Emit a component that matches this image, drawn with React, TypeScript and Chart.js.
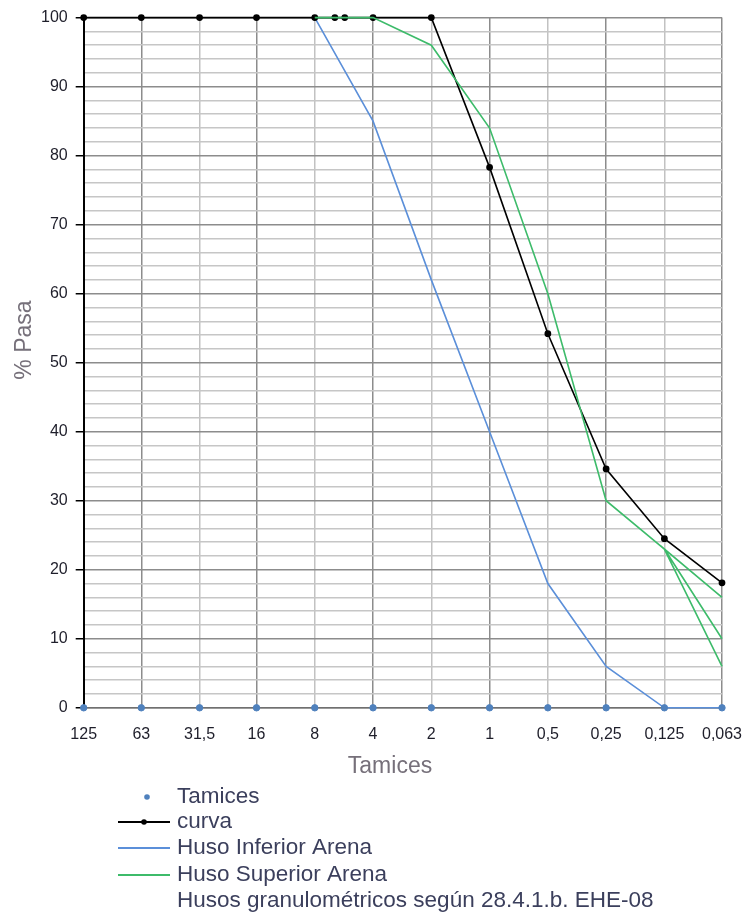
import React, { useEffect, useRef } from 'react';
import { Chart, registerables } from 'chart.js';

Chart.register(...registerables);

// Sieve sizes (mm) and their labels
const sieveSizes = [125, 63, 31.5, 16, 8, 4, 2, 1, 0.5, 0.25, 0.125, 0.063];
const sieveLabels = ['125', '63', '31,5', '16', '8', '4', '2', '1', '0,5', '0,25', '0,125', '0,063'];
const tamicesValues = [0, 0, 0, 0, 0, 0, 0, 0, 0, 0, 0, 0];

// Grading curve
const curvaSizes = [125, 63, 31.5, 16, 8, 6.3, 5.6, 4, 2, 1, 0.5, 0.25, 0.125, 0.063];
const curvaValues = [100, 100, 100, 100, 100, 100, 100, 100, 100, 78.3, 54.2, 34.6, 24.5, 18.1];

// Lower limit (Huso Inferior Arena)
const infSizes = [8, 4, 2, 1, 0.5, 0.25, 0.125, 0.063];
const infValues = [100, 85, 62, 40, 18, 6, 0, 0];

// Upper limit (Huso Superior Arena) with three fines variants at 0.063
const supSizes = [8, 4, 2, 1, 0.5, 0.25, 0.125];
const supValues = [100, 100, 96, 84, 60, 30, 23];
const supFinesSize = 0.063;
const supFinesValues = [16, 10, 6];

const xTitle = 'Tamices';
const yTitle = '% Pasa';
const legendNote = 'Husos granulométricos según 28.4.1.b. EHE-08';

const TEXT_FONT = '"Liberation Sans", Arial, sans-serif';
const TITLE_COLOR = '#76707a';
const LEGEND_COLOR = '#3b3f5c';

export default function App() {
  const ref = useRef<HTMLCanvasElement | null>(null);

  useEffect(() => {
    document.body.style.margin = '0';
    const canvas = ref.current;
    if (!canvas) return;

    const supData: { x: number; y: number }[] = supSizes.map((x, i) => ({ x, y: supValues[i] }));
    const lastSize = supSizes[supSizes.length - 1];
    const lastVal = supValues[supValues.length - 1];
    supFinesValues.forEach((f, i) => {
      if (i > 0) supData.push({ x: lastSize, y: lastVal });
      supData.push({ x: supFinesSize, y: f });
    });

    const decorPlugin = {
      id: 'decor',
      afterDraw(chart: any) {
        const ctx = chart.ctx;
        ctx.save();
        ctx.font = `23px ${TEXT_FONT}`;
        ctx.textBaseline = 'middle';
        ctx.textAlign = 'center';
        ctx.fillStyle = TITLE_COLOR;
        // axis titles
        ctx.fillText(xTitle, 390, 767);
        ctx.save();
        ctx.translate(25, 340);
        ctx.rotate(-Math.PI / 2);
        ctx.fillText(yTitle, 0, 0);
        ctx.restore();

        // legend
        const lx0 = 118, lx1 = 170, tx = 177;
        const rows = [797, 822, 848, 875, 901];
        ctx.font = `22.5px ${TEXT_FONT}`;
        ctx.textAlign = 'left';
        ctx.beginPath();
        ctx.fillStyle = '#4f81bd';
        ctx.arc((lx0 + lx1) / 2 + 3, rows[0], 2.8, 0, Math.PI * 2);
        ctx.fill();
        ctx.fillStyle = LEGEND_COLOR;
        ctx.fillText('Tamices', tx, rows[0]);
        const lines = [
          { c: '#000000', label: 'curva', dot: true },
          { c: '#5b8fd9', label: 'Huso Inferior Arena', dot: false },
          { c: '#3dbb6a', label: 'Huso Superior Arena', dot: false },
        ];
        lines.forEach((l, i) => {
          const y = rows[i + 1];
          ctx.strokeStyle = l.c;
          ctx.lineWidth = 2;
          ctx.beginPath();
          ctx.moveTo(lx0, y);
          ctx.lineTo(lx1, y);
          ctx.stroke();
          if (l.dot) {
            ctx.fillStyle = l.c;
            ctx.beginPath();
            ctx.arc((lx0 + lx1) / 2, y, 2.8, 0, Math.PI * 2);
            ctx.fill();
          }
          ctx.fillStyle = LEGEND_COLOR;
          ctx.fillText(l.label, tx, y);
        });
        ctx.fillText(legendNote, tx, rows[4]);
        ctx.restore();
      },
    };

    const chart = new Chart(canvas, {
      type: 'line',
      data: {
        datasets: [
          {
            label: 'Tamices',
            data: sieveSizes.map((x, i) => ({ x, y: tamicesValues[i] })),
            showLine: false,
            pointRadius: 3.2,
            pointBackgroundColor: '#4f81bd',
            pointBorderColor: '#4f81bd',
            borderColor: '#4f81bd',
            clip: false,
            order: 0,
          },
          {
            label: 'Huso Superior Arena',
            data: supData,
            borderColor: '#3dbb6a',
            borderWidth: 1.6,
            pointRadius: 0,
            tension: 0,
            clip: false,
            order: 1,
          },
          {
            label: 'curva',
            data: curvaSizes.map((x, i) => ({ x, y: curvaValues[i] })),
            borderColor: '#000000',
            borderWidth: 1.6,
            pointRadius: 2.6,
            pointBackgroundColor: '#000000',
            pointBorderColor: '#000000',
            tension: 0,
            clip: false,
            order: 2,
          },
          {
            label: 'Huso Inferior Arena',
            data: infSizes.map((x, i) => ({ x, y: infValues[i] })),
            borderColor: '#5b8fd9',
            borderWidth: 1.6,
            pointRadius: 0,
            tension: 0,
            clip: false,
            order: 3,
          },
        ],
      },
      options: {
        responsive: false,
        animation: false,
        layout: { padding: { top: 17, right: 0, left: 33, bottom: 155 } },
        plugins: {
          legend: { display: false },
          tooltip: { enabled: false },
        },
        scales: {
          x: {
            type: 'logarithmic',
            reverse: true,
            min: 0.063,
            max: 125,
            bounds: 'data',
            afterBuildTicks: (s: any) => {
              s.ticks = sieveSizes.map((v) => ({ value: v }));
            },
            afterFit: (s: any) => {
              s.paddingLeft = 0;
              s.paddingRight = 20;
            },
            ticks: {
              autoSkip: false,
              maxRotation: 0,
              padding: 17,
              color: '#1e1e2a',
              font: { family: TEXT_FONT, size: 16 },
              callback: (_v: any, i: number) => sieveLabels[i],
            },
            grid: {
              drawTicks: false,
              color: (c: any) => (c.index % 2 === 1 ? '#8c8c8c' : '#c2c2c2'),
              lineWidth: 1.5,
            },
            border: { color: '#707070', width: 1.5 },
          },
          y: {
            type: 'linear',
            min: 0,
            max: 100,
            ticks: {
              stepSize: 2,
              autoSkip: false,
              padding: 8,
              color: '#1e1e2a',
              font: { family: TEXT_FONT, size: 16 },
              callback: (v: any) => (Number(v) % 10 === 0 ? String(v) : ''),
            },
            grid: {
              color: (c: any) => (c.tick && c.tick.value % 10 === 0 ? '#8c8c8c' : '#c6c6c6'),
              tickColor: (c: any) => (c.tick && c.tick.value % 10 === 0 ? '#000' : 'rgba(0,0,0,0)'),
              tickLength: 8,
              lineWidth: 1.5,
            },
            border: { color: '#000', width: 2 },
          },
        },
      },
      plugins: [decorPlugin],
    });

    return () => chart.destroy();
  }, []);

  return (
    <div style={{ width: 742, height: 916, position: 'relative', background: '#fff' }}>
      <canvas ref={ref} width={742} height={916} style={{ display: 'block' }} />
    </div>
  );
}
